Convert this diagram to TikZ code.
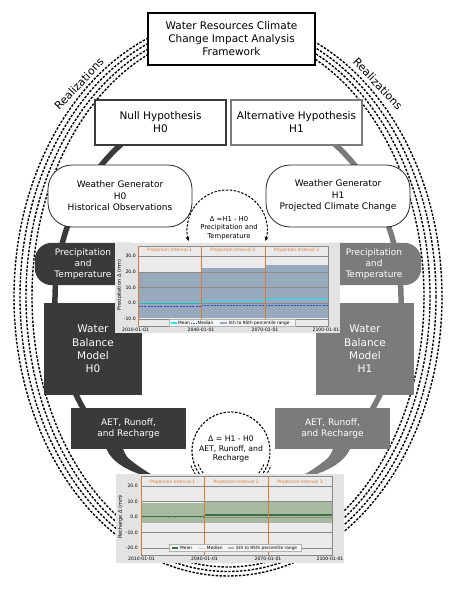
\documentclass[tikz,border=0pt]{standalone}
\usepackage{fontspec}
\setmainfont{DejaVu Sans}
\usetikzlibrary{arrows.meta}
\definecolor{darkc}{HTML}{3A3A3A}
\definecolor{grayc}{HTML}{7B7B7B}
\definecolor{chartbg}{HTML}{E3E3E3}
\definecolor{plotbg}{HTML}{EAEAEA}
\definecolor{gridc}{HTML}{8A8A8A}
\definecolor{orangec}{HTML}{E07B2E}
\definecolor{blueband}{HTML}{97AABD}
\definecolor{cyanc}{HTML}{22E4EE}
\definecolor{medblue}{HTML}{2447D6}
\definecolor{greenband}{HTML}{A7B9A1}
\definecolor{meangreen}{HTML}{3F6E47}
\definecolor{medgreen}{HTML}{9CCB9C}
\begin{document}
\begin{tikzpicture}[x=1pt,y=1pt,
  titlebox/.style={draw=black, line width=1.2pt, fill=white, align=center, inner sep=0pt,
    minimum width=167pt, minimum height=52pt, font=\fontsize{10.5}{13}\selectfont},
  hypbox/.style={line width=1.3pt, fill=white, align=center, inner sep=0pt,
    minimum width=131pt, minimum height=45pt, font=\fontsize{10.5}{13}\selectfont},
  wgbox/.style={draw=black!85, line width=0.8pt, fill=white, rounded corners=24pt, align=center,
    inner sep=0pt, minimum width=144pt, minimum height=62pt, font=\fontsize{9}{11.5}\selectfont},
  ptbox/.style={align=center, inner sep=0pt, text=white, minimum height=42pt,
    font=\fontsize{9}{11.3}\selectfont},
  wbbox/.style={align=center, inner sep=0pt, text=white, minimum width=98pt, minimum height=92pt,
    font=\fontsize{10.5}{13.3}\selectfont},
  aetbox/.style={align=center, inner sep=0pt, text=white, minimum width=115pt, minimum height=41pt,
    font=\fontsize{9}{11.3}\selectfont},
  chartbox/.style={fill=chartbg, inner sep=0pt},
  realiz/.style={inner sep=0pt, font=\fontsize{11}{13}\selectfont},
  dashring/.style={line width=1.4pt, dash pattern=on 2.4pt off 1.5pt},
  tinylab/.style={inner sep=0pt, font=\fontsize{4.3}{5}\selectfont},
  ticklab/.style={inner sep=0pt, font=\fontsize{4.6}{5}\selectfont},
  headlab/.style={inner sep=0pt, text=orangec, font=\fontsize{4.5}{5}\selectfont},
  gridln/.style={gridc, line width=0.4pt},
  orangeln/.style={orangec, line width=0.8pt}
]
\useasboundingbox (0,0) rectangle (457,-591);
\fill[white] (0,0) rectangle (457,-591);

% dashed realization rings
\coordinate (dctr) at (228,-297);
\draw[dashring] (dctr) ellipse [x radius=214pt, y radius=279pt];
\draw[dashring] (dctr) ellipse [x radius=208pt, y radius=274.5pt];
\draw[dashring] (dctr) ellipse [x radius=202pt, y radius=270pt];
\draw[dashring] (dctr) ellipse [x radius=196pt, y radius=265.5pt];

\node[realiz, rotate=47] (rl) at (79,-84) {Realizations};
\node[realiz, rotate=-47] (rr) at (378,-84) {Realizations};

% thick hypothesis paths
\coordinate (ctr) at (228,-300);
\draw[darkc, line width=5.5pt] (ctr) ++(120:173pt and 198pt)
  arc[start angle=120, end angle=245, x radius=173pt, y radius=198pt];
\draw[grayc, line width=5.5pt] (ctr) ++(60:173pt and 198pt)
  arc[start angle=60, end angle=-65, x radius=173pt, y radius=198pt];

% nodes
\node[titlebox] (title) at (231.5,-39) {Water Resources Climate\\Change Impact Analysis\\Framework};
\node[hypbox, draw=darkc] (nullh) at (160.5,-122.5) {Null Hypothesis\\H0};
\node[hypbox, draw=grayc] (alth) at (296.5,-122.5) {Alternative Hypothesis\\H1};
\node[wgbox] (wg0) at (120,-196) {Weather Generator\\H0\\Historical Observations};
\node[wgbox] (wg1) at (338,-196) {Weather Generator\\H1\\Projected Climate Change};

\node[ptbox, minimum width=96pt] (pt0) at (83,-264) {};
\fill[darkc] (pt0.north east) {[rounded corners=17pt] -- (pt0.north west) -- (pt0.south west)} -- (pt0.south east) -- cycle;
\node[ptbox] at (pt0) {Precipitation\\and\\Temperature};
\node[ptbox, minimum width=94pt] (pt1) at (374,-264) {};
\fill[grayc] (pt1.north west) {[rounded corners=17pt] -- (pt1.north east) -- (pt1.south east)} -- (pt1.south west) -- cycle;
\node[ptbox] at (pt1) {Precipitation\\and\\Temperature};

\node[wbbox, fill=darkc] (wb0) at (93,-349) {Water\\Balance\\Model\\H0};
\node[wbbox, fill=grayc] (wb1) at (365,-349) {Water\\Balance\\Model\\H1};

\node[aetbox, fill=darkc] (aet0) at (128.5,-428.5) {AET, Runoff,\\and Recharge};
\node[aetbox, fill=grayc] (aet1) at (332.5,-428.5) {AET, Runoff,\\and Recharge};

% tails from AET boxes to the recharge chart
\fill[darkc] (aet0.south) ++(-22,0) .. controls (112,-462) and (128,-472) .. (153,-478)
  .. controls (138,-470) and (127,-460) .. (123,-449) -- cycle;
\fill[grayc] (aet1.south) ++(17.5,0) .. controls (344,-462) and (328,-472) .. (303,-478)
  .. controls (318,-470) and (329,-460) .. (333,-449) -- cycle;

% delta circles
\node[inner sep=0pt, align=center, font=\fontsize{6.8}{8.2}\selectfont] (d1) at (229,-228)
  {Δ =H1 - H0\\Precipitation and\\Temperature};
\draw[line width=1pt, dash pattern=on 2.4pt off 1.5pt, {Stealth[length=4.5pt,width=4pt]}-{Stealth[length=4.5pt,width=4pt]}]
  (d1.center) ++(-2,-2) ++(-16:40pt) arc[start angle=-16, end angle=196, radius=40pt];
\node[inner sep=0pt, align=center, font=\fontsize{7.7}{9.7}\selectfont] (d2) at (231,-449)
  {Δ = H1 - H0\\AET, Runoff, and\\Recharge};
\coordinate (dc2) at (231,-451);
\draw[dashring, line width=1.1pt] (dc2) ++(-40:39pt) arc[start angle=-40, end angle=220, radius=39pt];
\draw[dashring, line width=0.9pt] (dc2) ++(-45:35.5pt) arc[start angle=-45, end angle=-22, radius=35.5pt];
\draw[dashring, line width=0.9pt] (dc2) ++(-36:42.5pt) arc[start angle=-36, end angle=-20, radius=42.5pt];
\draw[dashring, line width=0.9pt] (dc2) ++(202:35.5pt) arc[start angle=202, end angle=225, radius=35.5pt];
\draw[dashring, line width=0.9pt] (dc2) ++(200:42.5pt) arc[start angle=200, end angle=216, radius=42.5pt];

% ---------------- chart 1: precipitation ----------------
\node[chartbox, minimum width=225pt, minimum height=90.5pt] (chart1) at (227.5,-288) {};
\fill[plotbg] (138,-246) rectangle (328,-326);
\fill[blueband] (138,-272.3) rectangle (201,-317.5);
\fill[blueband] (201,-267.3) rectangle (265,-317.5);
\fill[blueband] (265,-264.3) rectangle (328,-317.5);
\draw[white!80!blueband, line width=0.5pt] (138,-272.3) -- (201,-272.3) (201,-267.3) -- (265,-267.3) (265,-264.3) -- (328,-264.3);
\foreach \yy/\lab in {255.9/30.0, 271.7/20.0, 287.5/10.0, 303.3/0.0, 319.1/-10.0} {
  \draw[gridln] (138,-\yy) -- (328,-\yy);
  \node[ticklab, anchor=east] at (136,-\yy) {\lab};
}
\draw[cyanc, line width=1.3pt] (138,-302.3) -- (201,-302.3) (201,-300.3) -- (265,-300.3) (265,-299.3) -- (328,-299.3);
\draw[medblue, line width=0.8pt, dash pattern=on 2pt off 1.2pt] (138,-306.7) -- (201,-306.7) (201,-305.5) -- (265,-305.5) (265,-305) -- (328,-305);
\draw[gridc, line width=0.4pt] (138,-246) rectangle (328,-326);
\draw[orangeln] (138,-246) -- (138,-326) (201,-246) -- (201,-326) (265,-246) -- (265,-326);
\node[headlab] at (169.5,-250.5) {Projection Interval 1};
\node[headlab] at (233,-250.5) {Projection Interval 2};
\node[headlab] at (296.5,-250.5) {Projection Interval 3};
\draw[fill=white!92!gray, draw=gray!60, line width=0.3pt] (169,-319.6) rectangle (295,-326.4);
\draw[cyanc, line width=1.2pt] (171,-323) -- (177,-323);
\node[tinylab, anchor=west] at (178,-323) {Mean};
\draw[medblue, line width=0.8pt, dash pattern=on 1.5pt off 1pt] (190.5,-323) -- (196.5,-323);
\node[tinylab, anchor=west] at (197.5,-323) {Median};
\draw[blueband, line width=2pt] (220,-323) -- (227,-323);
\node[tinylab, anchor=west] at (228.5,-323) {5th to 95th percentile range};
\node[ticklab, rotate=90, font=\fontsize{5}{6}\selectfont] at (119.5,-285) {Precipitation Δ (mm)};
\node[ticklab] at (135.5,-329.7) {2010-01-01};
\node[ticklab] at (201,-329.7) {2040-01-01};
\node[ticklab] at (265,-329.7) {2070-01-01};
\node[ticklab] at (326,-329.7) {2100-01-01};

% ---------------- chart 2: recharge ----------------
\node[chartbox, minimum width=228pt, minimum height=89.5pt] (chart2) at (230,-518.5) {};
\fill[plotbg] (141,-476) rectangle (332,-555);
\fill[greenband] (141,-502.3) rectangle (204.5,-522.7);
\fill[greenband] (204.5,-501) rectangle (268,-523);
\fill[greenband] (268,-500) rectangle (332,-523);
\draw[white!75!greenband, line width=0.5pt] (141,-502.3) -- (204.5,-502.3) (204.5,-501) -- (268,-501) (268,-500) -- (332,-500);
\foreach \yy/\lab in {486/20.0, 501.5/10.0, 517/0.0, 532.5/-10.0, 548/-20.0} {
  \draw[gridln] (141,-\yy) -- (332,-\yy);
  \node[ticklab, anchor=east] at (138,-\yy) {\lab};
}
\draw[medgreen, line width=0.9pt, dash pattern=on 1.5pt off 1pt] (141,-517.5) -- (204.5,-517.5) (204.5,-516.2) -- (332,-516.2);
\draw[meangreen, line width=1.1pt] (141,-516.3) -- (204.5,-516.3) (204.5,-515) -- (332,-515);
\draw[gridc, line width=0.4pt] (141,-476) rectangle (332,-555);
\draw[orangeln] (141,-476) -- (141,-555) (204.5,-476) -- (204.5,-555) (268,-476) -- (268,-555);
\node[headlab] at (172.75,-482.5) {Projection Interval 1};
\node[headlab] at (236.25,-482.5) {Projection Interval 2};
\node[headlab] at (300,-482.5) {Projection Interval 3};
\draw[fill=white!92!gray, draw=gray!60, line width=0.3pt] (169.5,-544.6) rectangle (301,-551.4);
\draw[meangreen, line width=1.2pt] (171.7,-548) -- (178.3,-548);
\node[tinylab, anchor=west] at (180,-548) {Mean};
\draw[medgreen, line width=0.9pt, dash pattern=on 1.5pt off 1pt] (199,-548) -- (205,-548);
\node[tinylab, anchor=west] at (206.7,-548) {Median};
\draw[greenband, line width=2pt] (228.3,-548) -- (234.3,-548);
\node[tinylab, anchor=west] at (236,-548) {5th to 95th percentile range};
\node[ticklab, rotate=90, font=\fontsize{5}{6}\selectfont] at (120.5,-517) {Recharge Δ (mm)};
\node[ticklab] at (141.5,-559.3) {2010-01-01};
\node[ticklab] at (204.5,-559.3) {2040-01-01};
\node[ticklab] at (268,-559.3) {2070-01-01};
\node[ticklab] at (330,-559.3) {2100-01-01};
\end{tikzpicture}
\end{document}
